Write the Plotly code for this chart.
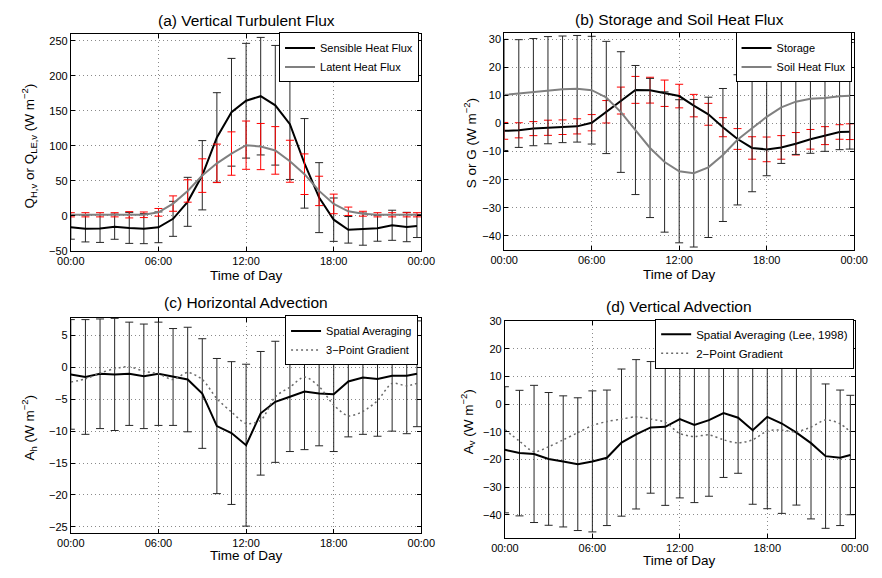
import plotly.graph_objects as go

FONT = "Liberation Sans, Arial, Helvetica, sans-serif"

# ---------------- data ----------------
hours = [0, 1, 2, 3, 4, 5, 6, 7, 8, 9, 10, 11, 12, 13, 14, 15, 16, 17, 18, 19, 20, 21, 22, 23, 23.7]
tick_hours = [0, 6, 12, 18, 24]
tick_labels = ["00:00", "06:00", "12:00", "18:00", "00:00"]

# (a) vertical turbulent flux
a_sensible = [-16.4, -18.3, -18.0, -15.5, -17.4, -18.3, -16.4, -4.3, 20, 58, 112, 148, 164.5, 171, 158, 131,
              75, 26, -5.5, -20, -19, -17.8, -13.5, -16, -14.5]
a_sensible_err = [17, 19, 20, 18, 22, 21.5, 22, 25, 35, 49.5, 64, 77, 82, 84, 85.5, 79,
                  64, 50, 31, 19, 23, 18.5, 21.5, 21, 16.5]
a_latent = [1.5, 1.5, 1.5, 1.5, 1.5, 1.5, 5, 17.5, 35.5, 57.5, 75, 89, 101, 99, 93.5, 78,
            59.5, 35.6, 17, 6.5, 3, 1.5, 1.5, 1.5, 1.5]
a_latent_err = [3, 3, 3, 3, 4.5, 4, 5.5, 11, 16, 24, 27.5, 31, 34.5, 33, 34, 30,
                29, 21, 14, 6, 3.5, 3, 3, 3, 3]

# (b) storage and soil heat flux
b_storage = [-2.6, -2.4, -1.8, -1.5, -1.3, -1.0, 0.3, 4.2, 8.2, 12, 11.9, 10.8, 9.8, 6.4, 3.3, -1.3,
             -5.5, -8.7, -9.2, -8.5, -7.2, -5.6, -4.3, -3.0, -2.9]
b_storage_err = [3, 2.7, 2.5, 2.7, 2.6, 2.7, 2.9, 4, 4.8, 4.8, 4.6, 4.7, 4.2, 4, 3.9, 3.4,
                 3.7, 4, 4.4, 4.2, 4, 3.5, 3.2, 2.6, 2.8]
b_soil = [10.2, 10.7, 11.2, 11.9, 12.2, 12.4, 11.9, 9.3, 4.1, -2.3, -8.7, -13.7, -17, -17.7, -15.6, -11.2,
          -5.8, -1.7, 2.4, 5.8, 7.8, 8.8, 9.1, 9.7, 9.9]
b_soil_err = [19.8, 19.2, 19.1, 19.1, 19, 19, 19.2, 20, 21.5, 23, 24.8, 25.0, 25.5, 26.3, 25.0, 23.7,
              23.2, 22.6, 21, 20, 18.8, 19.4, 19, 19, 19]

# (c) horizontal advection
c_spatial = [-1.1, -1.5, -1.0, -1.1, -1.0, -1.4, -1.0, -1.5, -1.9, -4.1, -9.2, -10.3, -12.2, -7.2, -5.4, -4.6,
             -3.8, -4.1, -4.2, -2.2, -1.6, -1.8, -1.3, -1.3, -1.0]
c_spatial_err = [8.6, 9.0, 8.6, 8.8, 8.1, 8.2, 8.1, 7.6, 8.2, 8.6, 10.6, 11.2, 12.7, 9.7, 9.5, 8.6,
                 9.1, 8.2, 9.0, 8.7, 8.9, 9.0, 8.7, 9.1, 8.3]
c_gradient = [-2.3, -1.8, -0.9, -0.2, 0.1, -0.6, -1.0, -1.9, -0.8, -1.9, -4.9, -7.0, -8.8, -8.3, -4.6, -3.1,
              -1.5, -3.0, -5.9, -7.6, -6.9, -5.2, -2.5, -2.9, -2.5]

# (d) vertical advection
d_spatial = [-16.5, -17.7, -18.0, -19.8, -20.7, -21.7, -20.7, -19.4, -13.9, -10.9, -8.4, -8.2, -5.4, -7.5, -5.8, -3.2,
             -4.9, -9.4, -4.6, -7.0, -10.3, -14.1, -18.8, -19.4, -18.4]
d_spatial_err = [22.8, 22.7, 24.8, 24, 23.7, 24, 25.5, 24.5, 26.6, 27, 23.8, 28.4, 28.5, 28.1, 27.5, 23.3,
                 20.1, 26.8, 33.2, 32.5, 26.2, 27.4, 26.1, 24.5, 21.6]
d_gradient = [-9.2, -13.4, -17.2, -15.4, -12.9, -10.3, -7.7, -6.3, -5.4, -4.6, -5.4, -6.6, -10.6, -11.7, -11.1, -12.9,
              -14.0, -12.9, -9.7, -9.4, -10.0, -8.3, -5.7, -7.1, -10.0]

# ---------------- figure ----------------
fig = go.Figure()

BAR_DARK = "#262626"
GRAY = "#808080"
DOT_COLOR = "#6a6a6a"


def series(y, err, xa, ya, name, color, width, dash, errcolor, legend, shape="linear"):
    kw = {}
    if err is not None:
        kw["error_y"] = dict(type="data", array=err, visible=True, color=errcolor, thickness=1, width=4)
    fig.add_trace(go.Scatter(
        x=hours, y=y, mode="lines", name=name,
        line=dict(color=color, width=width, dash=dash, shape=shape, smoothing=0.8),
        xaxis=xa, yaxis=ya, legend=legend, hoverinfo="skip", **kw))


series(a_sensible, a_sensible_err, "x", "y", "Sensible Heat Flux", "black", 2, "solid", BAR_DARK, "legend")
series(a_latent, a_latent_err, "x", "y", "Latent Heat Flux", GRAY, 2, "solid", "red", "legend")

series(b_storage, b_storage_err, "x2", "y2", "Storage", "black", 2, "solid", "red", "legend2")
series(b_soil, b_soil_err, "x2", "y2", "Soil Heat Flux", GRAY, 2, "solid", BAR_DARK, "legend2")

series(c_spatial, c_spatial_err, "x3", "y3", "Spatial Averaging", "black", 2, "solid", BAR_DARK, "legend3")
series(c_gradient, None, "x3", "y3", "3\u2212Point Gradient", DOT_COLOR, 1.5, "2px,3px", None, "legend3", "spline")

series(d_spatial, d_spatial_err, "x4", "y4", "Spatial Averaging (Lee, 1998)", "black", 2, "solid", BAR_DARK, "legend4")
series(d_gradient, None, "x4", "y4", "2\u2212Point Gradient", DOT_COLOR, 1.5, "2px,3px", None, "legend4", "spline")

W, H = 882, 578


def px_x(v):
    return v / W


def px_y(v):
    return 1 - v / H


tickfont = dict(family=FONT, size=11, color="black")
grid = dict(showgrid=True, gridcolor="#8a8a8a", griddash="1px,3px", gridwidth=1)


def xaxis(dom, anchor):
    return dict(domain=dom, anchor=anchor, range=[0, 24], tickmode="array", tickvals=tick_hours,
                ticktext=tick_labels, ticks="inside", ticklen=4, tickcolor="black", showline=True,
                linecolor="black", linewidth=1, mirror="ticks", zeroline=False, tickfont=tickfont,
                fixedrange=True, **grid)


def yaxis(dom, anchor, rng, dtick, tick0):
    return dict(domain=dom, anchor=anchor, range=rng, tickmode="linear", dtick=dtick, tick0=tick0,
                ticks="inside", ticklen=4, tickcolor="black", showline=True, linecolor="black",
                linewidth=1, mirror="ticks", zeroline=False, tickfont=tickfont, fixedrange=True, **grid)


xa_a = [px_x(58.7), px_x(420.7)]
xa_b = [px_x(506.3), px_x(867.7)]
xa_c = [px_x(58.7), px_x(420.7)]
xa_d = [px_x(507.0), px_x(868.3)]
ya_a = [px_y(250.0), px_y(28.5)]
ya_b = [px_y(249.0), px_y(27.5)]
ya_c = [px_y(538.3), px_y(318.3)]
ya_d = [px_y(543.0), px_y(321.3)]


def legend(right, top, size):
    return dict(x=px_x(right), y=px_y(top), xanchor="right", yanchor="top", xref="paper", yref="paper",
                bgcolor="white", bordercolor="black", borderwidth=1,
                font=dict(family=FONT, size=size, color="black"), traceorder="normal",
                tracegroupgap=0, itemclick=False, itemdoubleclick=False)


annotations = []


def text(x, y, s, size, angle=0):
    annotations.append(dict(x=px_x(x), y=px_y(y), xref="paper", yref="paper", text=s, showarrow=False,
                            xanchor="center", yanchor="middle", textangle=angle,
                            font=dict(family=FONT, size=size, color="black")))


text(240, 15, "(a) Vertical Turbulent Flux", 15.5)
text(687, 14, "(b) Storage and Soil Heat Flux", 15.5)
text(240, 303, "(c) Horizontal Advection", 15.5)
text(687, 307, "(d) Vertical Advection", 15.5)
for cx, cy in [(240, 275), (687, 274), (240, 561), (687, 566)]:
    text(cx, cy, "Time of Day", 13.5)
text(16, 143, "Q<sub>H,v</sub> or Q<sub>LE,v</sub> (W m<sup>\u22122</sup>)", 13.5, -90)
text(471, 140, "S or G (W m<sup>\u22122</sup>)", 13.5, -90)
text(16, 430, "A<sub>h</sub> (W m<sup>\u22122</sup>)", 13.5, -90)
text(469, 425, "A<sub>v</sub> (W m<sup>\u22122</sup>)", 13.5, -90)

fig.update_layout(
    width=W, height=H, margin=dict(l=0, r=0, t=0, b=0),
    paper_bgcolor="white", plot_bgcolor="white",
    font=dict(family=FONT, color="black"),
    showlegend=True, hovermode=False,
    xaxis=xaxis(xa_a, "y"), yaxis=yaxis(ya_a, "x", [-50, 260], 50, 0),
    xaxis2=xaxis(xa_b, "y2"), yaxis2=yaxis(ya_b, "x2", [-45, 32.3], 10, 0),
    xaxis3=xaxis(xa_c, "y3"), yaxis3=yaxis(ya_c, "x3", [-26, 7.8], 5, 0),
    xaxis4=xaxis(xa_d, "y4"), yaxis4=yaxis(ya_d, "x4", [-48.3, 30.2], 10, 0),
    legend=legend(418.3, 27.0, 11),
    legend2=legend(865.0, 27.0, 11),
    legend3=legend(417.3, 316.0, 11),
    legend4=legend(867.7, 319.5, 11.5),
    annotations=annotations,
)

fig.write_html("out.html", config={"displayModeBar": False})
